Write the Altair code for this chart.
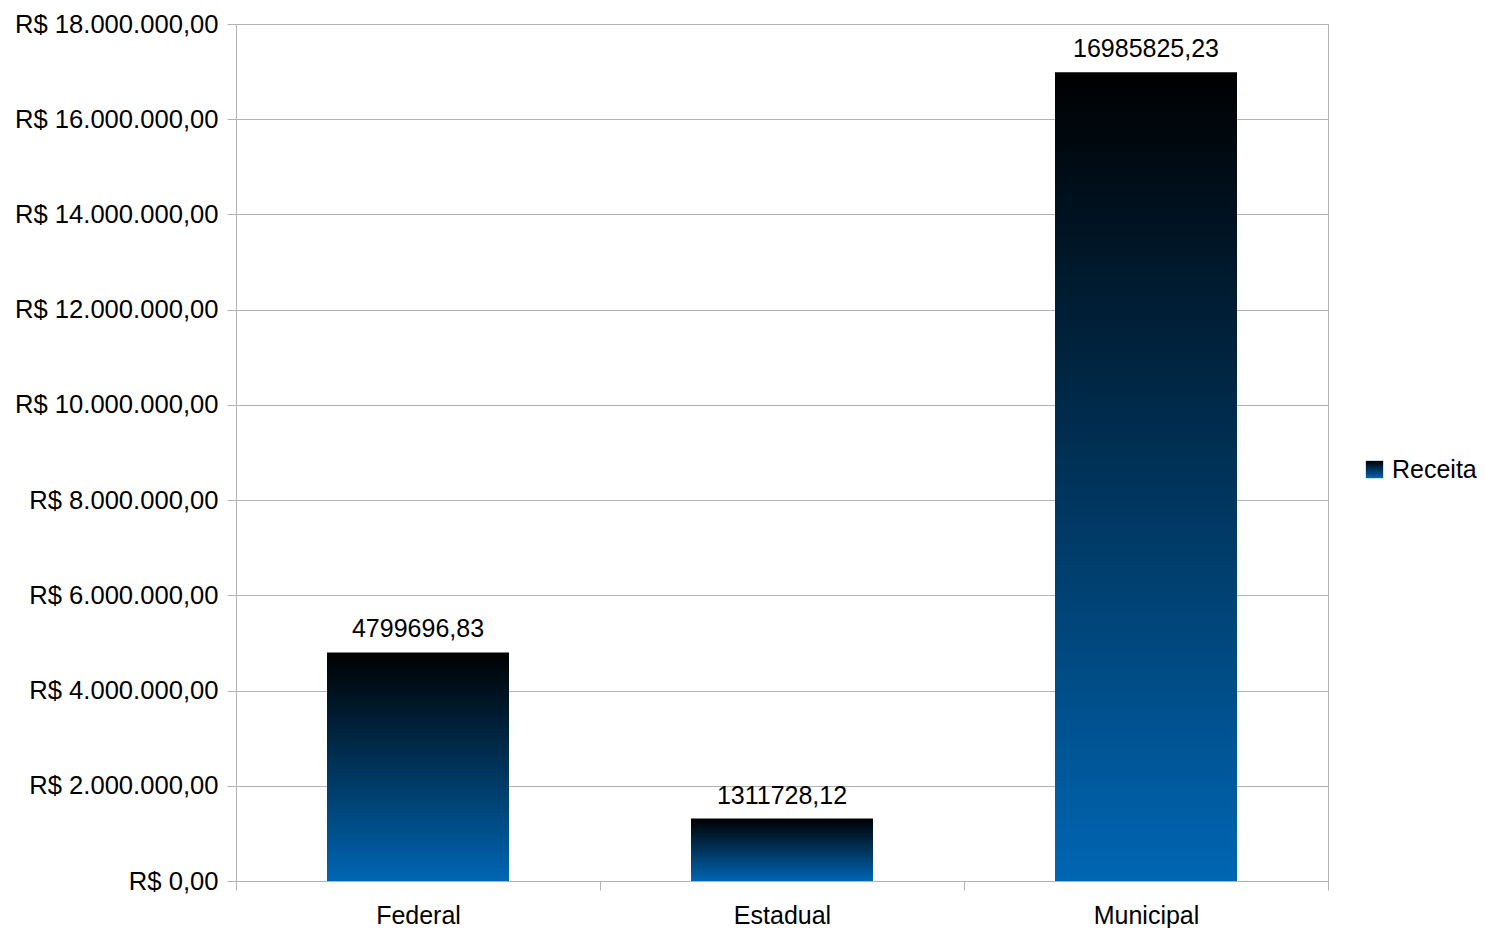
import altair as alt
import pandas as pd

categories = ["Federal", "Estadual", "Municipal"]
values = [4799696.83, 1311728.12, 16985825.23]
series = "Receita"
y_ticks = [0, 2000000, 4000000, 6000000, 8000000, 10000000, 12000000, 14000000, 16000000, 18000000]

df = pd.DataFrame({"cat": categories, "val": values, "serie": [series] * 3})

FONT = "Liberation Sans"
FS = 25
grad = {
    "gradient": "linear",
    "x1": 0, "y1": 0, "x2": 0, "y2": 1,
    "stops": [
        {"offset": 0, "color": "#000000"},
        {"offset": 1, "color": "#0066b3"},
    ],
}

x = alt.X("cat:N", sort=categories, title=None,
          scale=alt.Scale(paddingInner=0, paddingOuter=0),
          axis=alt.Axis(labelAngle=0, labelFontSize=FS, labelFont=FONT, labelColor="#000000",
                        domainColor="#b3b3b3", tickColor="#b3b3b3", tickSize=9,
                        tickBand="extent", labelPadding=13, grid=False))
y = alt.Y("val:Q", title=None,
          scale=alt.Scale(domain=[0, 18000000], nice=False),
          axis=alt.Axis(values=y_ticks, format="$,.2f", labelFontSize=25.6, labelFont=FONT,
                        labelColor="#000000", domainColor="#b3b3b3", tickColor="#b3b3b3",
                        tickSize=9, gridColor="#b3b3b3", labelPadding=9, labelLimit=400))

bars = alt.Chart(df).mark_bar(fill=grad, width=alt.RelativeBandSize(0.5)).encode(
    x=x, y=y,
    stroke=alt.Stroke("serie:N", title=None,
                      scale=alt.Scale(domain=[series], range=["#003a66"]),
                      legend=alt.Legend(orient="none", legendX=1126, legendY=433,
                                        symbolType="square", symbolSize=300,
                                        symbolFillColor="#003a66", symbolStrokeWidth=0,
                                        labelFontSize=FS, labelFont=FONT, labelColor="#000000",
                                        labelOffset=5)),
    strokeWidth=alt.value(0),
)

labels = alt.Chart(df).mark_text(dy=-23, fontSize=FS, font=FONT, color="#000000").encode(
    x=alt.X("cat:N", sort=categories),
    y="val:Q",
    text=alt.Text("val:Q", format=".2f"),
)

chart = (bars + labels).properties(
    width=1092, height=857,
    padding={"left": 6, "top": 4, "right": 0, "bottom": 0},
).configure_view(
    stroke="#b3b3b3", strokeWidth=1
)

chart.save("out.html", embed_options={
    "renderer": "svg", "actions": False,
    "formatLocale": {"decimal": ",", "thousands": ".", "grouping": [3], "currency": ["R$ ", ""]},
})
